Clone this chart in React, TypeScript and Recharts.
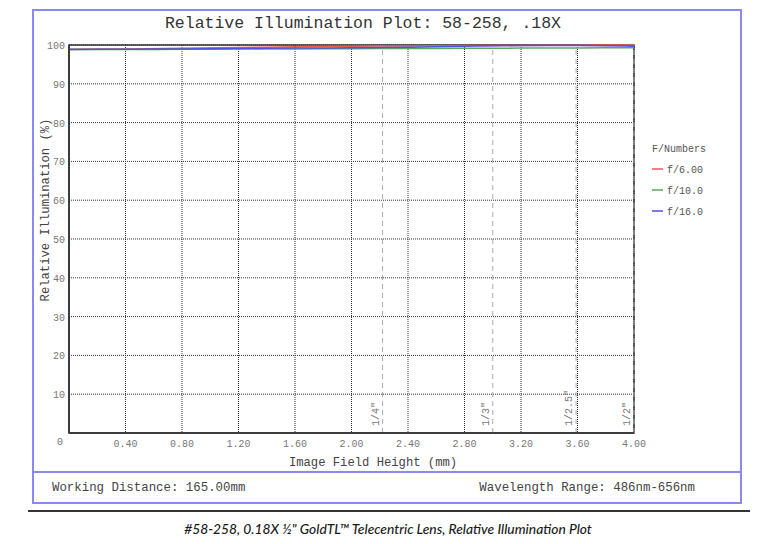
import React from 'react';
import { LineChart, Line, XAxis, YAxis, CartesianGrid, ReferenceLine, ReferenceArea } from 'recharts';

const fieldHeights = [0, 0.4, 0.8, 1.2, 1.6, 2.0, 2.4, 2.8, 3.2, 3.6, 4.0];
const illumF6 = [98.9, 99.0, 99.15, 99.35, 99.55, 99.7, 99.75, 99.85, 99.9, 99.95, 100.0];
const illumF10 = [98.85, 98.85, 98.9, 98.95, 99.0, 99.05, 99.1, 99.15, 99.2, 99.25, 99.3];
const illumF16 = [98.85, 98.9, 99.0, 99.1, 99.2, 99.3, 99.45, 99.7, 99.85, 99.85, 99.7];
const seriesKeys = ['f6', 'f10', 'f16'];
const seriesNames = ['f/6.00', 'f/10.0', 'f/16.0'];
const seriesColors = ['#ee5a5a', '#5aaa5a', '#4f4fe0'];
const xTicks = [0, 0.4, 0.8, 1.2, 1.6, 2.0, 2.4, 2.8, 3.2, 3.6, 4.0];
const yTicks = [0, 10, 20, 30, 40, 50, 60, 70, 80, 90, 100];
const sensorLabels = ['1/4"', '1/3"', '1/2.5"', '1/2"'];
const sensorHeights = [2.22, 3.0, 3.59, 4.0];

const data = fieldHeights.map((x, i) => ({ x, f6: illumF6[i], f10: illumF10[i], f16: illumF16[i] }));

const MONO = '"Liberation Mono", "DejaVu Sans Mono", monospace';

const XTick = (props: any) => {
  const { x, y, payload } = props;
  if (payload.value === 0) return null;
  return (
    <text x={x} y={y + 13.5} textAnchor="middle" fontSize={10} fontFamily={MONO} fill="#777">
      {Number(payload.value).toFixed(2)}
    </text>
  );
};

const YTick = (props: any) => {
  const { x, y, payload } = props;
  const v = payload.value;
  if (v === 0) {
    return (
      <text x={x - 6} y={y + 11.5} textAnchor="end" fontSize={10} fontFamily={MONO} fill="#777">0</text>
    );
  }
  return (
    <text x={x - 4} y={y + 4} textAnchor="end" fontSize={10} fontFamily={MONO} fill="#777">{v}</text>
  );
};

const sensorLabel = (text: string) => (props: any) => {
  const vb = props.viewBox || {};
  const lx = vb.x - 4;
  const ly = vb.y + vb.height - 7;
  return (
    <text transform={`translate(${lx}, ${ly}) rotate(-90)`} fontSize={10} fontFamily={MONO} fill="#777">
      {text}
    </text>
  );
};

export default function App() {
  return (
    <div style={{ position: 'absolute', left: 0, top: 0, width: 761, height: 544, background: '#fff' }}>
      <svg width={761} height={544} style={{ position: 'absolute', left: 0, top: 0 }}>
        <rect x={33} y={10} width={708} height={493} fill="none" stroke="#8a8aee" strokeWidth={2} />
        <line x1={33} x2={741} y1={472} y2={472} stroke="#8a8aee" strokeWidth={2} />
        <line x1={28} x2={750} y1={511} y2={511} stroke="#333" strokeWidth={2} />
        <text x={363} y={28} textAnchor="middle" fontSize={16.5} fontFamily={MONO} fill="#333">
          Relative Illumination Plot: 58-258, .18X
        </text>
        <text x={373} y={466} textAnchor="middle" fontSize={12.2} fontFamily={MONO} fill="#444">
          Image Field Height (mm)
        </text>
        <text transform="translate(49, 210) rotate(-90)" textAnchor="middle" fontSize={12.2} fontFamily={MONO} fill="#444">
          Relative Illumination (%)
        </text>
        <text x={652} y={151.5} fontSize={10} fontFamily={MONO} fill="#555">F/Numbers</text>
        {seriesNames.map((n, i) => (
          <g key={n}>
            <line x1={652} x2={663} y1={169 + i * 21} y2={169 + i * 21} stroke={seriesColors[i]} strokeWidth={1.5} />
            <text x={667} y={172.5 + i * 21} fontSize={10} fontFamily={MONO} fill="#555">{n}</text>
          </g>
        ))}
        <text x={52} y={491} fontSize={12.4} fontFamily={MONO} fill="#444">Working Distance: 165.00mm</text>
        <text x={695} y={491} textAnchor="end" fontSize={12.4} fontFamily={MONO} fill="#444">Wavelength Range: 486nm-656nm</text>
        <text x={388} y={534} textAnchor="middle" fontSize={13.8} fontStyle="italic" fontWeight={500} fontFamily='Lato, "Open Sans", sans-serif' fill="#1a1a1a">
          #58-258, 0.18X ½" GoldTL™ Telecentric Lens, Relative Illumination Plot
        </text>
      </svg>
      <div style={{ position: 'absolute', left: 0, top: 0 }}>
        <LineChart width={761} height={544} data={data} margin={{ top: 45, right: 127, bottom: 81, left: 39 }}>
          <CartesianGrid stroke="#333" strokeDasharray="1 1" fill="none" />
          <XAxis
            type="number"
            dataKey="x"
            domain={[0, 4]}
            ticks={xTicks}
            height={30}
            tickLine={false}
            tickSize={0}
            tickMargin={0}
            axisLine={{ stroke: '#333', strokeWidth: 1.5 }}
            tick={<XTick />}
            interval={0}
          />
          <YAxis
            type="number"
            domain={[0, 100]}
            ticks={yTicks}
            width={30}
            tickLine={false}
            tickSize={0}
            tickMargin={0}
            axisLine={{ stroke: '#333', strokeWidth: 1.5 }}
            tick={<YTick />}
            interval={0}
          />
          <ReferenceArea x1={0} x2={4} y1={0} y2={100} fill="none" fillOpacity={0} stroke="#333" strokeWidth={1.5} />
          {sensorLabels.map((lab, i) => (
            <ReferenceLine
              key={lab}
              x={sensorHeights[i]}
              stroke="#aaa"
              strokeDasharray="5 4"
              label={sensorLabel(lab)}
            />
          ))}
          {seriesKeys.map((k, i) => (
            <Line
              key={k}
              type="monotone"
              dataKey={k}
              stroke={seriesColors[i]}
              strokeWidth={1.5}
              dot={false}
              isAnimationActive={false}
            />
          ))}
        </LineChart>
      </div>
    </div>
  );
}
